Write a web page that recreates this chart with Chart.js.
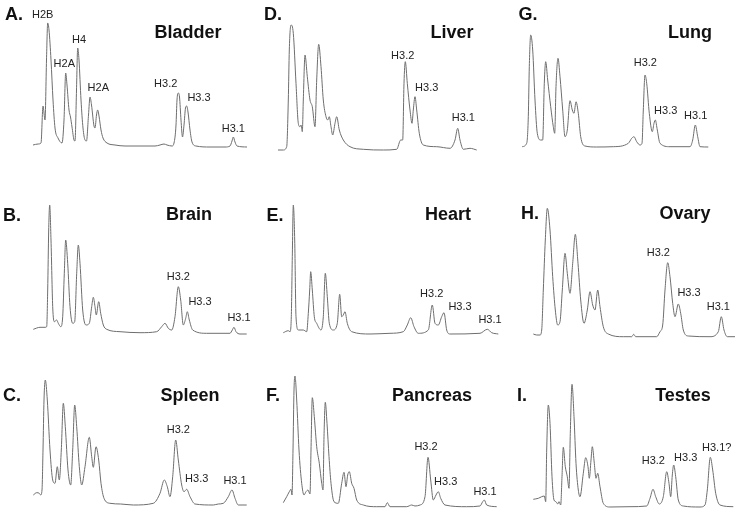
<!DOCTYPE html>
<html>
<head>
<meta charset="utf-8">
<script src="https://cdn.jsdelivr.net/npm/chart.js@4.4.1/dist/chart.umd.min.js"></script>
<style>
body { margin: 0; background: #fff; width: 737px; height: 514px; overflow: hidden; position: relative; font-family: "Liberation Sans", Arial, sans-serif; }
.panel { position: absolute; width: 265px; height: 165px; }
.txt { position: absolute; transform: translate(-50%, -50%); font-weight: bold; font-size: 18px; color: #111; white-space: nowrap; line-height: 1; }
</style>
</head>
<body>
<script>
// HPLC traces: [retention, absorbance] pairs (arbitrary units)
const bladderTrace = [[0,2],[5,3],[8,4],[10,41],[12,27],[13.5,87],[14.7,124],[16,117],[18,87],[20,47],[22,19],[25,9],[29,4],[31,27],[32.7,74],[34,62],[36,37],[37.5,30],[39,20],[41,7],[42,6],[43.5,57],[44.7,99],[46,87],[48,47],[50,19],[52,7],[53.5,6],[55.5,32],[57,50],[58.5,42],[61,21],[62,19],[63.5,32],[64.7,37],[66,31],[68,17],[70,9],[74,4],[82,2],[92,1],[107,1],[122,1],[127,2],[131,3],[134,2],[139,1],[141,4],[143,22],[144,47],[145.3,54],[146.5,50],[148,27],[149.5,10],[151,22],[152.5,39],[153.7,41],[155,35],[157,17],[159,5],[163,1],[177,0],[192,0],[197,1],[199,6],[200.3,10],[202,5],[204,1],[214,0]];
const bladderLabels = [['H2B',9.7,132],['H2A',31.3,83],['H4',46,107],['H2A',65.3,59],['H3.2',132.7,63],['H3.3',166,49],['H3.1',200.3,18]];

const liverTrace = [[0,0],[5.3,0],[8.7,3.3],[10.3,50],[11.3,100],[13,125],[15.3,116.7],[18,66.7],[20.3,26.7],[22,23.3],[23,25],[24.3,18.3],[25.3,50],[27,95],[29.3,73.3],[32,50],[34.3,43.3],[37,23.3],[38.7,70],[40.7,105.7],[43,83.3],[45.3,50],[48,33.3],[49.7,30],[51.3,33.3],[53,23.3],[54.7,15],[57,26.7],[58.7,33.3],[61.3,20],[65.3,10],[72,3.3],[85.3,0.7],[105.3,0],[118.7,0.7],[122.7,10],[124.7,10],[126,66.7],[127.3,88.3],[129.3,66.7],[132,40],[134,26.7],[135.3,40],[137,53.3],[138.7,40],[141.3,16.7],[145.3,5],[158.7,3.3],[172,1.7],[177,10],[179.7,21.7],[182,10],[185.3,0.7],[192,1.7],[198.7,0]];
const liverLabels = [['H3.2',124.7,94],['H3.3',148.7,62],['H3.1',185.3,32]];

const lungTrace = [[0,0.3],[4.7,3.7],[6.3,30.3],[7.3,80.3],[8.7,112],[10.7,97],[13,47],[15.3,13.7],[18.7,7],[20.7,7],[22.3,63.7],[23.7,85.3],[25.7,67],[28.7,40.3],[31.3,20.3],[32.7,13.7],[34,60.3],[36,88.7],[38,70.3],[40.7,37],[43,10.3],[45.3,17],[48,46.3],[50.3,37],[52,33.7],[54,45.3],[56.3,33.7],[58.7,10.3],[63,1],[74.7,0],[91.3,0.3],[106.3,3.7],[109.7,8.7],[112,10.3],[114.7,5.3],[118,2],[120,3.7],[121.3,37],[123,72],[124.7,63.7],[127.3,33.7],[130.3,15.3],[132,23.7],[133.3,27],[135.3,17],[138,3.7],[148,0.3],[168,0.3],[170.7,7],[173.3,22],[175.7,10.3],[178,0.3],[186.3,0]];
const lungLabels = [['H3.2',123.3,84],['H3.3',143.7,36],['H3.1',173.7,31]];

const brainTrace = [[0.3,4.7],[7,6.7],[12,6.7],[13.7,7.3],[14.7,44],[15.7,104],[16.7,129],[18,94],[19.7,27.3],[21.3,12.3],[23.7,14],[25.3,10.7],[27.7,7.3],[29.7,17.3],[31.3,60.7],[32.7,94],[34.7,70.7],[37,27.3],[39.7,10.7],[41.7,12.3],[43.7,60.7],[45.3,89],[47,70.7],[49.7,24],[53,9],[56.3,10.7],[58.7,27.3],[60.3,36.7],[62,27.3],[63.3,19],[65.7,32.3],[67.7,20.7],[70.3,9],[73.7,4.7],[87,2.3],[107,1.3],[123.7,2.3],[128.7,7.3],[132,10.7],[135.3,5.7],[138.7,4],[142,17.3],[145.3,47.3],[147.7,34],[150.3,9],[152.7,15.7],[154.3,22.3],[156.3,14],[159.7,4],[173.7,0.7],[197,0.7],[199.3,4],[201,6.7],[203,2.3],[207,0],[213.7,0]];
const brainLabels = [['H3.2',145.3,57],['H3.3',167,32],['H3.1',206,16]];

const heartTrace = [[0.3,1.3],[5.3,3.3],[7,2.3],[8.3,17.3],[9.3,77.3],[10.3,129],[11.7,94],[13,17.3],[15.3,4],[20.3,4],[23.7,2.3],[25.3,20.7],[26.7,44],[27.7,62.3],[29.3,44],[31.3,17.3],[33.7,10.7],[38,4],[40.3,17.3],[42.3,60.7],[44.3,37.3],[46.3,10.7],[50.3,4],[54.3,10.7],[56.7,39.7],[58.7,17.3],[60.3,19],[62,22.3],[64.3,10.7],[68.7,2.3],[87,0],[107,0.7],[120.3,2.3],[124.3,9],[127.7,16.3],[131,7.3],[135.3,0.7],[145.3,4],[149.3,29],[152,10.7],[155.3,9],[158.7,17.3],[161,21.3],[163.7,4],[167,0],[197,0.7],[204.3,4.7],[208.7,1.3],[215.3,0]];
const heartLabels = [['H3.2',148.7,40],['H3.3',177,27],['H3.1',207,14]];

const ovaryTrace = [[0.3,3],[3.7,2],[7,2],[8.7,7],[10.3,47],[12.3,97],[14.3,128.7],[17,107],[19.7,60.3],[22.3,27],[24.7,12],[27,15.3],[29.3,47],[32,83.7],[34.3,63.7],[37,43.7],[39.7,73.7],[42.3,102.7],[45,73.7],[47.7,37],[51,13.7],[54.3,27],[57,45.3],[59.7,32],[62,27],[64.7,47],[67,30.3],[70.3,10.3],[75.3,3],[90.3,0.3],[98.7,0.3],[100.7,2.7],[102.7,0.3],[123.7,0.3],[127,5.3],[129.7,12],[132,47],[134.7,74.3],[137,60.3],[139.7,33.7],[142,20.3],[145.3,33],[147.7,23.7],[150.3,7],[155.3,1],[177,0.3],[185.3,5.3],[188.3,20.3],[191,7],[194.3,0.3],[202,0.3]];
const ovaryLabels = [['H3.2',125.3,84],['H3.3',156,44],['H3.1',185.3,30]];

const spleenTrace = [[0.3,10],[3.7,12.3],[6.3,11.7],[7.7,10],[9,15],[10,55],[11,105],[12.3,125],[14.3,105],[17,55],[19.7,25],[22,21.7],[24.3,38.3],[26.3,25],[28.3,55],[30.3,101.7],[32.3,78.3],[35,35],[37.7,20],[39.7,55],[41.7,100],[43.7,78.3],[46.3,38.3],[48.7,20],[52,38.3],[56.3,67.7],[58.7,48.3],[60.3,37.7],[63,58.3],[65.7,45],[68,21.7],[71,6.7],[77,1.7],[87.7,1],[100.3,0],[120.3,1.7],[127,11.7],[131.3,25],[134.3,18.3],[137,8.3],[139.7,28.3],[142.7,65],[145.3,45],[148.7,20],[151,13.3],[153.7,15.7],[157,8.3],[162,1],[180.3,0],[185.3,1],[190.3,1.7],[195.3,8.3],[199,15],[202,6.7],[205.3,0],[213.7,0]];
const spleenLabels = [['H3.2',145.3,75],['H3.3',163.7,26],['H3.1',202,24]];

const pancreasTrace = [[0.3,4.3],[3.7,10.3],[6.3,15.3],[8,17.7],[9,12],[10,57],[11,117],[12,131],[13.7,107],[16,57],[18.7,23.7],[21,12],[23,15.3],[25,17],[27,13],[28,57],[29.3,109.3],[31.3,90.3],[33.7,60.3],[36.3,43.7],[38.7,23.7],[40,17],[41,70.3],[42.3,104.7],[44,83.7],[46,50.3],[48,23.7],[51,5.3],[55.3,3.7],[58.7,23.7],[61,34.7],[63,20.3],[64.7,32],[66.3,35.3],[68.7,23.7],[71,18.7],[73.7,7],[80.3,2],[93.7,0.3],[102,0.3],[104.3,4.3],[107,0.3],[123.7,0.3],[128.7,2],[132,1],[137,2],[142,10.3],[145,49.7],[147.7,27],[150.3,7],[153,12],[155.3,15.3],[157.7,8.7],[162,2],[183.7,0.3],[197,1],[199.7,5.3],[201.3,7],[203.7,2],[213.7,0.3]];
const pancreasLabels = [['H3.2',143,60],['H3.3',162.7,25],['H3.1',202,15]];

const testesTrace = [[0.3,7.7],[5.3,8.7],[8.7,10.3],[11.3,11],[12.7,5.3],[13.7,57],[15.3,102],[17,83.7],[19,30.3],[21,7],[23,5.3],[24.7,3],[26,5.3],[27.7,2],[29,30.3],[30.3,59.7],[32.3,40.3],[34.3,30.3],[36,18.7],[37.3,73.7],[39,122.7],[41,90.3],[43,43.7],[45.3,17],[47,10.3],[50.3,33.7],[52.7,49.3],[55,40.3],[56.3,28.7],[58,47],[59.3,60.3],[61.3,43.7],[63,28.7],[64.7,33.7],[67,20.3],[70.3,3.7],[77,0],[97,0.3],[113.7,1],[117,8.7],[120,17.7],[122.7,10.3],[126.3,3],[130.3,10.3],[133.7,35.3],[136,23.7],[137.7,10.3],[139.3,32],[140.7,42],[142.7,30.3],[145.3,7],[150.3,1],[167,0],[172,2],[174.3,17],[177.3,49.7],[179.7,37],[182.7,13.7],[187,2],[200.3,0.3]];
const testesLabels = [['H3.2',120.3,46],['H3.3',152.7,49],['H3.1?',183.7,59]];

// panel layout: trace origin on the page, then letter / title centres
const panels = [
  { letter: 'A.', name: 'Bladder',  trace: bladderTrace,  labels: bladderLabels,  x0: 33,  yb: 147, lp: [14, 14],  tp: [188, 32] },
  { letter: 'D.', name: 'Liver',    trace: liverTrace,    labels: liverLabels,    x0: 278, yb: 150, lp: [273, 14], tp: [452, 32] },
  { letter: 'G.', name: 'Lung',     trace: lungTrace,     labels: lungLabels,     x0: 522, yb: 147, lp: [528, 14], tp: [690, 32] },
  { letter: 'B.', name: 'Brain',    trace: brainTrace,    labels: brainLabels,    x0: 33,  yb: 334, lp: [12, 215], tp: [189, 214] },
  { letter: 'E.', name: 'Heart',    trace: heartTrace,    labels: heartLabels,    x0: 283, yb: 334, lp: [275, 215], tp: [448, 214] },
  { letter: 'H.', name: 'Ovary',    trace: ovaryTrace,    labels: ovaryLabels,    x0: 533, yb: 337, lp: [530, 213], tp: [685, 213] },
  { letter: 'C.', name: 'Spleen',   trace: spleenTrace,   labels: spleenLabels,   x0: 33,  yb: 505, lp: [12, 395], tp: [190, 395] },
  { letter: 'F.', name: 'Pancreas', trace: pancreasTrace, labels: pancreasLabels, x0: 283, yb: 507, lp: [273, 395], tp: [432, 395] },
  { letter: 'I.', name: 'Testes',   trace: testesTrace,   labels: testesLabels,   x0: 533, yb: 507, lp: [522, 395], tp: [683, 395] },
];

function addText(text, pos) {
  const d = document.createElement('div');
  d.className = 'txt';
  d.textContent = text;
  d.style.left = pos[0] + 'px';
  d.style.top = pos[1] + 'px';
  document.body.appendChild(d);
}

function peakLabels(items) {
  return {
    id: 'peakLabels',
    afterDatasetsDraw(chart) {
      const { ctx, scales } = chart;
      ctx.save();
      ctx.font = '11px "Liberation Sans", Arial, sans-serif';
      ctx.fillStyle = '#222';
      ctx.textAlign = 'center';
      ctx.textBaseline = 'middle';
      items.forEach(l => {
        ctx.fillText(l[0], scales.x.getPixelForValue(l[1]), scales.y.getPixelForValue(l[2]));
      });
      ctx.restore();
    }
  };
}

panels.forEach(p => {
  const canvas = document.createElement('canvas');
  canvas.className = 'panel';
  canvas.style.left = (p.x0 - 33) + 'px';
  canvas.style.top = (p.yb - 150) + 'px';
  canvas.width = 265;
  canvas.height = 165;
  document.body.appendChild(canvas);

  new Chart(canvas.getContext('2d'), {
    type: 'line',
    data: {
      datasets: [{
        label: p.name,
        data: p.trace.map(d => ({ x: d[0], y: d[1] })),
        borderColor: '#6e6e6e',
        borderWidth: 1,
        pointRadius: 0,
        fill: false,
        cubicInterpolationMode: 'monotone',
        clip: false,
      }]
    },
    options: {
      responsive: false,
      animation: false,
      layout: { padding: 0 },
      scales: {
        x: { type: 'linear', min: -33, max: 232, display: false },
        y: { min: -15, max: 150, display: false },
      },
      plugins: {
        legend: { display: false },
        tooltip: { enabled: false },
      }
    },
    plugins: [peakLabels(p.labels)]
  });

  addText(p.letter, p.lp);
  addText(p.name, p.tp);
});
</script>
</body>
</html>
